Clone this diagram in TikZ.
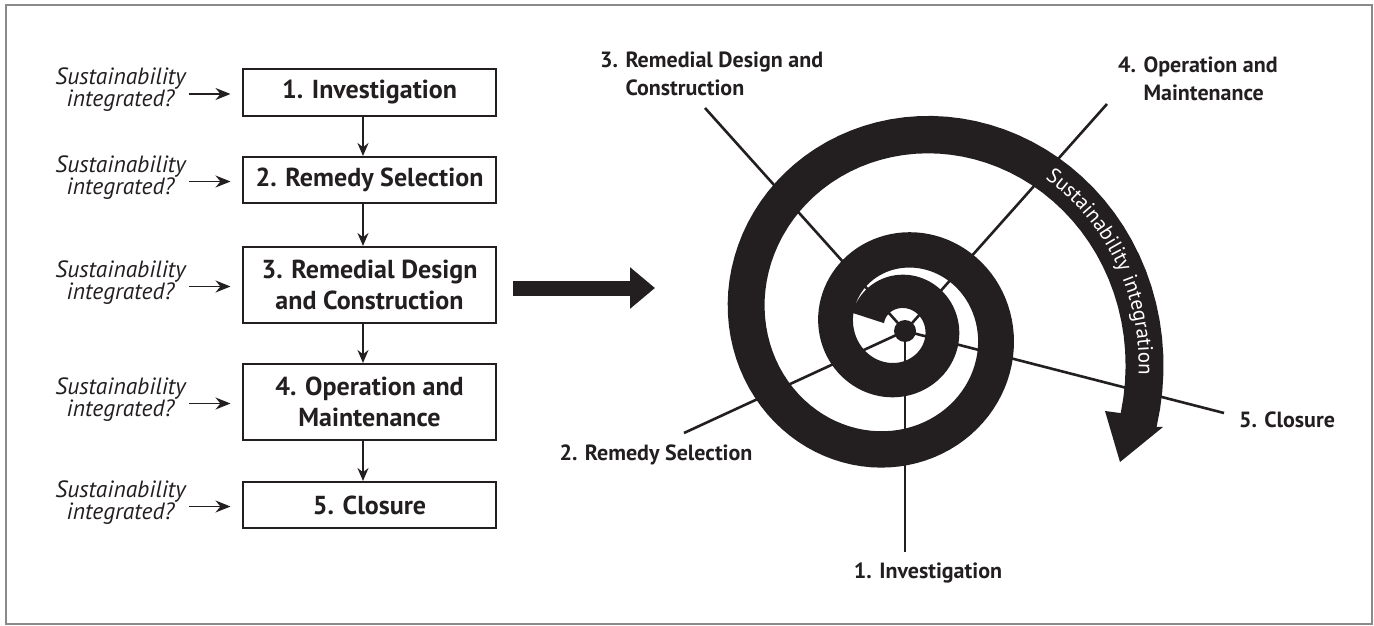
\documentclass[tikz,border=0pt]{standalone}
\usepackage{fontspec}
\setmainfont{PT Sans}
\usetikzlibrary{arrows.meta,decorations.text}
\definecolor{ink}{HTML}{231F20}
\definecolor{framegray}{HTML}{8A8A8A}
\newcommand{\rsBoxFont}{\fontsize{26}{31}\selectfont\bfseries}
\newcommand{\rsAskFont}{\fontsize{23.5}{22}\selectfont\itshape}
\newcommand{\rsLabFont}{\fontsize{22}{28}\selectfont\bfseries}
\newcommand{\rsSpiralFont}{\fontsize{21}{21}\selectfont}
\begin{document}
\begin{tikzpicture}[x=1pt,y=-1pt,
  stepbox/.style={draw=ink, line width=2pt, minimum width=253pt, inner sep=0pt, text=ink, font=\rsBoxFont, align=center},
  asklabel/.style={inner sep=0pt, text=ink, font=\rsAskFont, align=center},
  flowarrow/.style={draw=ink, line width=1.6pt, -{Stealth[length=13pt,width=11pt]}},
  askarrow/.style={draw=ink, line width=1.6pt, -{Stealth[length=15pt,width=12pt]}},
  spoke/.style={draw=ink, line width=2.6pt},
  spokelabel/.style={inner sep=0pt, text=ink, font=\rsLabFont, align=left},
  declare function={rout(\t)=28.9+31.2*exp(0.002786*\t); rin(\t)=rout(\t)-(34+0.006*\t);}
]
\useasboundingbox (0,0) rectangle (1374,626);
\fill[white] (0,0) rectangle (1374,626);
\draw[framegray, line width=2pt] (6,5) rectangle (1372,624);

% ---------- left flow ----------
\node[stepbox, minimum height=47pt] (b1) at (369.5,92.5) {1. Investigation};
\node[stepbox, minimum height=46pt] (b2) at (369.5,180) {2. Remedy Selection};
\node[stepbox, minimum height=76pt] (b3) at (369.5,285) {3. Remedial Design\\and Construction};
\node[stepbox, minimum height=76pt] (b4) at (369.5,402) {4. Operation and\\Maintenance};
\node[stepbox, minimum height=46pt] (b5) at (369.5,505) {5. Closure};

\foreach \a/\b in {b1/b2,b2/b3,b3/b4,b4/b5}
  \draw[flowarrow] ([xshift=-6.5pt]\a.south) -- ([xshift=-6.5pt]\b.north);

\foreach \i/\yy in {1/92.5,2/180,3/285,4/402,5/505}{
  \node[asklabel] (s\i) at (120.5,\yy-2.5) {Sustainability\\integrated?};
  \draw[askarrow, shorten >=11.5pt] ([xshift=3pt,yshift=-1.5pt]s\i.east |- b\i.west) -- ([yshift=-1.5pt]b\i.west);
}

% ---------- big arrow ----------
\coordinate (ba1) at (513,288);
\coordinate (ba2) at (655,288);
\draw[ink, line width=15pt, -{Triangle[length=25pt,width=40pt]}] (ba1) -- (ba2);

% ---------- spiral band ----------
\begin{scope}[shift={(899,328)}]
\fill[ink] plot[domain=-162:741, samples=240] (\x:{rout(\x)})
  -- (264,99) -- (221,134) -- (206,83)
  -- plot[domain=0:903, samples=240] ({741-\x}:{rin(741-\x)})
  -- cycle;
\end{scope}

% ---------- spokes ----------
\begin{scope}[shift={(905,331)}]
\coordinate (sc) at (0,0);
\coordinate (e1) at (0,221);
\coordinate (e2) at (-221,102);
\coordinate (e3) at (-200,-223);
\coordinate (e4) at (202,-227);
\coordinate (e5) at (319,82);
\foreach \e in {e1,e2,e3,e4,e5}
  \draw[spoke] (sc) -- (\e);
\fill[ink] (sc) circle[radius=11pt];
\end{scope}

% ---------- text on the band ----------
\begin{scope}[shift={(899,328)}]
\path[decorate, decoration={text along path, text align=center, text color=white,
   text={|\rsSpiralFont|Sustainability integration}}]
   plot[domain=-60:23, samples=80] (\x:{rout(\x+720)-25});
\end{scope}

% ---------- spiral labels ----------
\node[spokelabel, anchor=base] (l1) at (928,578) {1. Investigation};
\node[spokelabel, anchor=base] (l2) at (656,460) {2. Remedy Selection};
\node[spokelabel, anchor=north west] (l3) at (600,52) {3. Remedial Design and\\\hphantom{3. }Construction};
\node[spokelabel, anchor=north west] (l4) at (1118,57) {4. Operation and\\\hphantom{4. }Maintenance};
\node[spokelabel, anchor=base] (l5) at (1287,427) {5. Closure};
\end{tikzpicture}
\end{document}
